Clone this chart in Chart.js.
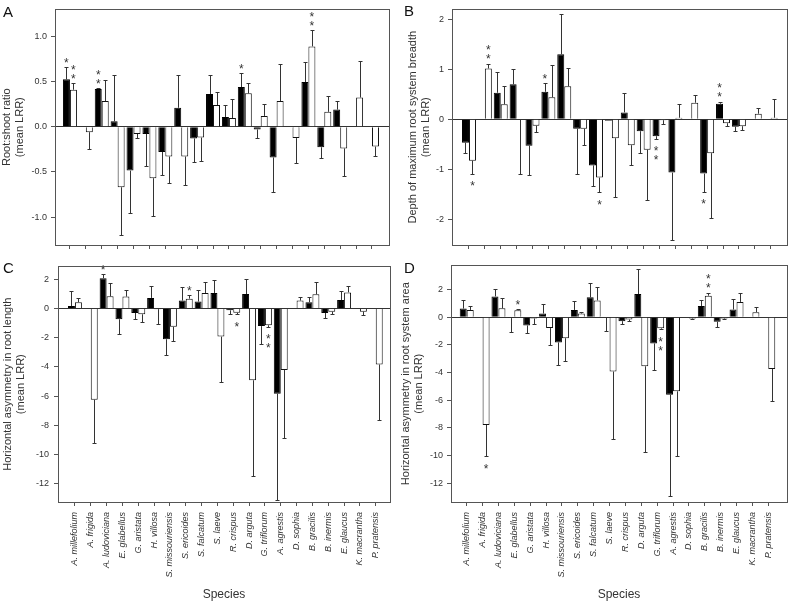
<!DOCTYPE html>
<html>
<head>
<meta charset="utf-8">
<script src="https://cdn.jsdelivr.net/npm/chart.js@4.4.1/dist/chart.umd.min.js"></script>
<style>
  body { margin: 0; background: #fff; width: 788px; height: 602px; position: relative; overflow: hidden; font-family: 'Liberation Sans', Arial, sans-serif; }
  canvas { position: absolute; }
  .lbl { position: absolute; font-size: 15px; line-height: 15px; color: #111; }
</style>
</head>
<body>
<canvas id="cA" width="394" height="256" style="left:0;top:0"></canvas>
<canvas id="cB" width="394" height="256" style="left:394px;top:0"></canvas>
<canvas id="cC" width="394" height="346" style="left:0;top:256px"></canvas>
<canvas id="cD" width="394" height="346" style="left:394px;top:256px"></canvas>
<div class="lbl" style="left:3px;top:4px">A</div>
<div class="lbl" style="left:404px;top:3px">B</div>
<div class="lbl" style="left:3px;top:260px">C</div>
<div class="lbl" style="left:404px;top:260px">D</div>
<script>
const FONT = "'Liberation Sans', Arial, sans-serif";

const species = ['A. millefolium', 'A. frigida', 'A. ludoviciana', 'E. glabellus', 'G. aristata',
  'H. villosa', 'S. missouriensis', 'S. ericoides', 'S. falcatum', 'S. laeve', 'R. crispus',
  'D. arguta', 'G. triflorum', 'A. agrestis', 'D. sophia', 'B. gracilis', 'B. inermis',
  'E. glaucus', 'K. macrantha', 'P. pratensis'];

// A - root:shoot ratio
const blackA = [0.525, null, 0.417, 0.06, -0.486, -0.08, -0.28, 0.21, -0.13, 0.363, 0.108, 0.44, -0.03, -0.34, null, 0.496, -0.227, 0.19, null, null];
const blackErrA = [0.135, null, 0.01, 0.515, 0.474, 0.36, 0.26, 0.36, 0.26, 0.207, 0.132, 0.15, 0.10, 0.38, null, 0.224, 0.123, 0.10, null, null];
const whiteA = [0.41, -0.06, 0.284, -0.67, -0.08, -0.57, -0.33, -0.33, -0.12, 0.24, 0.097, 0.37, 0.12, 0.284, -0.126, 0.89, 0.165, -0.24, 0.324, -0.22];
const whiteErrA = [0.07, 0.19, 0.236, 0.53, 0.04, 0.415, 0.29, 0.32, 0.26, 0.14, 0.209, 0.11, 0.13, 0.406, 0.274, 0.18, 0.175, 0.31, 0.406, 0.10];
const starsA = [[0, 0, 1], [1, 0, 2], [0, 2, 2], [0, 11, 1], [1, 15, 2]];
const ticksA = [-1.0, -0.5, 0, 0.5, 1.0];

// B - depth of maximum root system breadth
const blackB = [-0.47, null, 0.53, 0.70, -0.53, 0.55, 1.30, -0.19, -0.925, -0.03, 0.137, -0.24, -0.34, -1.07, null, -1.09, 0.31, -0.15, null, null];
const blackErrB = [0.21, null, 0.41, 0.30, 0.59, 0.17, 0.80, 0.90, 0.415, 0, 0.393, 0.44, 0.05, 1.35, null, 0.36, 0.04, 0.08, null, null];
const whiteB = [-0.83, 1.016, 0.30, -0.01, -0.13, 0.44, 0.66, -0.19, -1.17, -0.38, -0.52, -0.61, -0.02, 0.03, 0.33, -0.68, -0.08, -0.14, 0.11, 0.03];
const whiteErrB = [0.26, 0.10, 0.36, 1.09, 0.13, 0.65, 0.36, 0.33, 0.29, 1.18, 0.39, 1.0, 0.08, 0.28, 0.16, 1.30, 0.06, 0.08, 0.12, 0.37];
const starsB = [[1, 0, 1], [1, 1, 2], [0, 5, 1], [1, 8, 1], [0, 12, 2], [0, 15, 1], [0, 16, 2]];
const ticksB = [-2, -1, 0, 1, 2];

// C - horizontal asymmetry in root length
const blackC = [0.16, null, 2.07, -0.74, -0.31, 0.72, -2.11, 0.54, 0.47, 1.06, -0.13, 0.99, -1.21, -5.84, null, 0.43, -0.31, 0.58, null, null];
const blackErrC = [1.01, null, 0.27, 1.01, 0.41, 0.85, 1.06, 0.92, 0.77, 0.92, 0.23, 1.03, 1.22, 7.26, null, 0.33, 0.34, 0.59, null, null];
const whiteC = [0.43, -6.25, 0.83, 0.81, -0.40, -0.05, -1.26, 0.67, 1.06, -1.93, -0.29, -4.92, -1.15, -4.22, 0.54, 0.97, -0.22, 1.10, -0.22, -3.84];
const whiteErrC = [0.27, 2.99, 0.90, 0.47, 0.52, 1.01, 0.94, 0.23, 0.72, 3.10, 0.11, 6.58, 0.09, 4.68, 0.25, 0.81, 0.18, 0.47, 0.25, 3.82];
const starsC = [[0, 2, 1], [1, 7, 1], [1, 10, 1], [1, 12, 2]];

// D - horizontal asymmetry in root system area
const blackD = [0.62, null, 1.5, -0.07, -0.6, 0.26, -1.83, 0.52, 1.43, -0.05, -0.29, 1.67, -1.9, -5.6, null, 0.81, -0.33, 0.55, null, null];
const blackErrD = [0.59, null, 0.5, 1.0, 0.57, 0.67, 1.6, 0.67, 1.02, 0.93, 0.19, 1.78, 1.93, 7.36, null, 0.4, 0.41, 0.74, null, null];
const whiteD = [0.52, -7.79, 0.64, 0.5, -0.1, -0.79, -1.52, 0.26, 1.21, -3.93, -0.17, -3.55, -0.81, -5.36, -0.1, 1.55, -0.1, 1.10, 0.36, -3.74];
const whiteErrD = [0.27, 2.26, 0.76, 0.1, 0.42, 1.21, 1.62, 0.14, 0.96, 4.9, 0.12, 6.19, 0.05, 4.69, 0.02, 0.21, 0.05, 0.64, 0.35, 2.33];
const starsD = [[1, 1, 1], [1, 3, 1], [1, 12, 2], [1, 15, 2]];
const ticksCD = [-12, -10, -8, -6, -4, -2, 0, 2];

// error bars, asterisks and the box round the plot
const marks = {
  id: 'marks',
  afterDatasetsDraw(chart, args, opts) {
    const ctx = chart.ctx, y = chart.scales.y;
    ctx.save();
    ctx.strokeStyle = '#333';
    ctx.lineWidth = 1;
    chart.data.datasets.forEach((ds, d) => {
      const meta = chart.getDatasetMeta(d);
      ds.data.forEach((p, i) => {
        const v = p.y, e = ds.errors[i];
        if (v === null || !e) return;
        const x = Math.round(meta.data[i].x) + 0.5;
        const dir = v < 0 ? -1 : 1;
        const y0 = y.getPixelForValue(v), y1 = Math.round(y.getPixelForValue(v + dir * e)) + 0.5;
        ctx.beginPath();
        ctx.moveTo(x, y0); ctx.lineTo(x, y1);
        ctx.moveTo(x - 2, y1); ctx.lineTo(x + 2, y1);
        ctx.stroke();
      });
    });

    ctx.fillStyle = '#333';
    ctx.font = '12px ' + FONT;
    ctx.textAlign = 'center';
    ctx.textBaseline = 'alphabetic';
    opts.stars.forEach(([d, i, n]) => {
      const ds = chart.data.datasets[d], v = ds.data[i].y, e = ds.errors[i] || 0;
      const dir = v < 0 ? -1 : 1;
      const end = y.getPixelForValue(v + dir * e);
      const x = chart.getDatasetMeta(d).data[i].x;
      for (let k = 0; k < n; k++) {
        const yc = dir > 0 ? end - 7 - k * 9 : end + 10 + k * 9;
        ctx.fillText('*', x, yc + 6.7);
      }
    });

    const a = chart.chartArea;
    ctx.strokeStyle = '#555';
    ctx.strokeRect(Math.round(a.left) + 0.5, Math.round(a.top) + 0.5, Math.round(a.right - a.left), Math.round(a.bottom - a.top));
    ctx.restore();
  }
};

function panel(id, o) {
  const pts = arr => arr.map((v, i) => ({ x: i, y: v }));
  return new Chart(document.getElementById(id), {
    type: 'bar',
    data: {
      datasets: [
        { data: pts(o.black), errors: o.blackErr, backgroundColor: '#000', borderColor: '#000', borderWidth: 1, categoryPercentage: 0.88, barPercentage: 1 },
        { data: pts(o.white), errors: o.whiteErr, backgroundColor: '#fff', borderColor: '#111', borderWidth: 1, categoryPercentage: 0.88, barPercentage: 1 }
      ]
    },
    options: {
      responsive: false,
      animation: false,
      layout: { padding: o.pad },
      plugins: { legend: { display: false }, tooltip: { enabled: false }, marks: { stars: o.stars } },
      scales: {
        x: {
          type: 'linear',
          offset: false,
          min: o.xmin, max: o.xmax,
          afterBuildTicks: s => { s.ticks = species.map((n, i) => ({ value: i })); },
          grid: { offset: false, drawOnChartArea: false, drawTicks: true, tickLength: 4, color: '#555' },
          border: { color: '#555' },
          ticks: { display: o.names, autoSkip: false, minRotation: 90, maxRotation: 90, padding: 6, color: '#333',
                   font: { family: FONT, size: 9, style: 'italic' }, callback: v => species[v] },
          title: { display: o.names, text: 'Species', color: '#333', font: { family: FONT, size: 12 }, padding: 0 },
          afterFit: s => { s.height = o.xh; }
        },
        y: {
          min: o.min, max: o.max,
          afterBuildTicks: s => { s.ticks = o.ticks.map(v => ({ value: v })); },
          ticks: { padding: o.tp, color: '#333', font: { family: FONT, size: 9 }, callback: o.fmt },
          grid: { color: c => (c.tick && c.tick.value === 0) ? '#333' : 'rgba(0,0,0,0)', tickColor: '#555', tickLength: 4, drawTicks: true },
          border: { color: '#555' },
          title: { display: true, text: o.title, color: '#333', font: { family: FONT, size: 11, lineHeight: 1.2 }, padding: { top: o.tpad, bottom: 0 } },
          afterFit: s => { s.width = o.yw; }
        }
      }
    },
    plugins: [marks]
  });
}

panel('cA', {
  black: blackA, blackErr: blackErrA, white: whiteA, whiteErr: whiteErrA, stars: starsA,
  ticks: ticksA, min: -1.31, max: 1.30, fmt: v => v.toFixed(1), xmin: -0.94, xmax: 20.07,
  title: ['Root:shoot ratio', '(mean LRR)'], tpad: 0, tp: 4,
  pad: { left: 0, top: 3, right: 5, bottom: 0 }, yw: 55, xh: 11, names: false
});
panel('cB', {
  black: blackB, blackErr: blackErrB, white: whiteB, whiteErr: whiteErrB, stars: starsB,
  ticks: ticksB, min: -2.52, max: 2.20, fmt: v => String(v), xmin: -1.07, xmax: 20.03,
  title: ['Depth of maximum root system breadth', '(mean LRR)'], tpad: 12, tp: 4,
  pad: { left: 0, top: 3, right: 1, bottom: 0 }, yw: 58, xh: 11, names: false
});
panel('cC', {
  black: blackC, blackErr: blackErrC, white: whiteC, whiteErr: whiteErrC, stars: starsC,
  ticks: ticksCD, min: -13.26, max: 2.88, fmt: v => String(v), xmin: -1.07, xmax: 19.9,
  title: ['Horizontal asymmetry in root length', '(mean LRR)'], tpad: 1, tp: 5,
  pad: { left: 0, top: 7, right: 4, bottom: 0 }, yw: 58, xh: 100, names: true
});
panel('cD', {
  black: blackD, blackErr: blackErrD, white: whiteD, whiteErr: whiteErrD, stars: starsD,
  ticks: ticksCD, min: -13.36, max: 3.74, fmt: v => String(v), xmin: -0.99, xmax: 20.18,
  title: ['Horizontal asymmetry in root system area', '(mean LRR)'], tpad: 5, tp: 4,
  pad: { left: 0, top: 7, right: 1, bottom: 0 }, yw: 57, xh: 100, names: true
});
</script>
</body>
</html>
